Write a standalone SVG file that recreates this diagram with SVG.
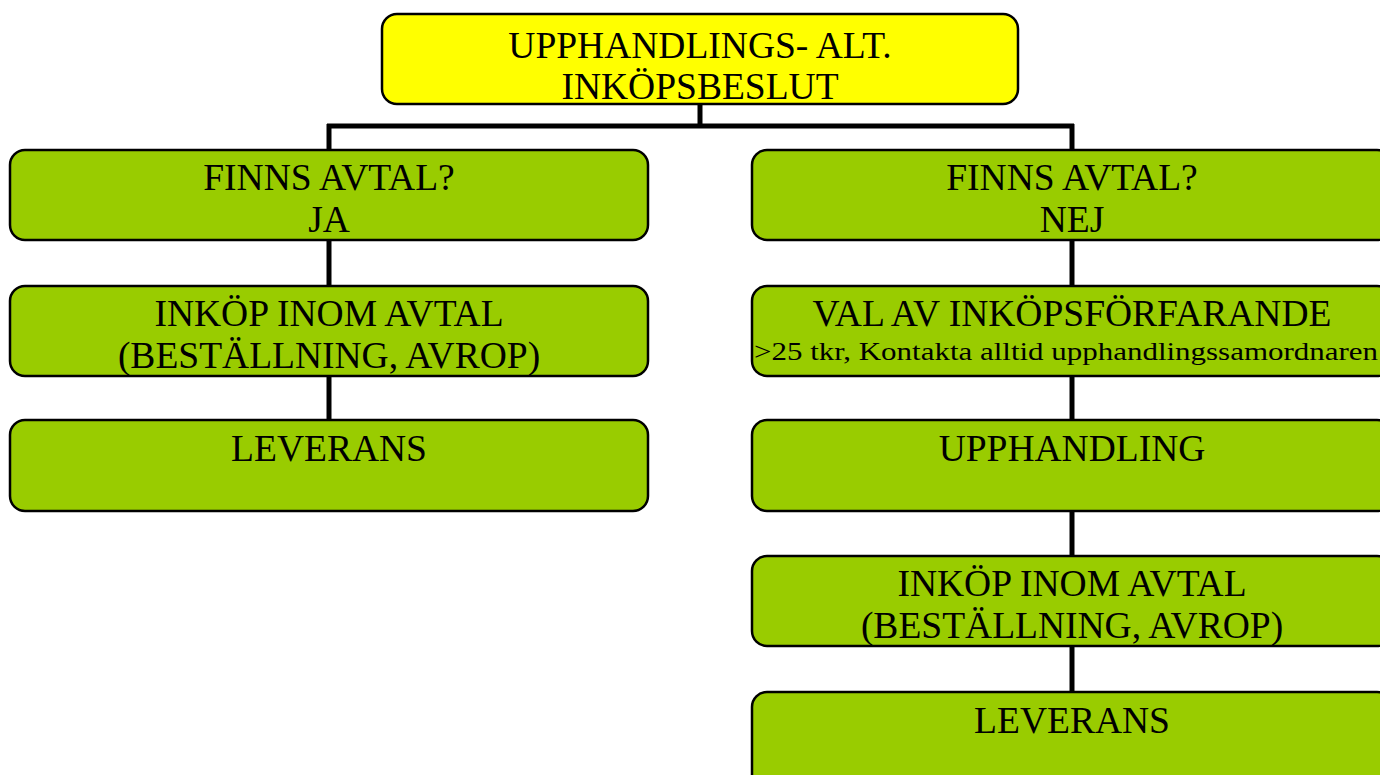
<svg xmlns="http://www.w3.org/2000/svg" width="1380" height="775" viewBox="0 0 1380 775">
<style>
.box{fill:#99CC00;stroke:#000;stroke-width:2.5}
.top{fill:#FFFF00;stroke:#000;stroke-width:2.5}
.t{font-family:"Liberation Serif","Times New Roman",serif;font-size:37.5px;fill:#000;text-anchor:middle}
.s{font-family:"Liberation Serif","Times New Roman",serif;font-size:26px;fill:#000;text-anchor:middle}
.c{stroke:#000;stroke-width:5;fill:none}
</style>
<rect width="1380" height="775" fill="#fff"/>
<g id="connectors">
<line class="c" x1="700" y1="104" x2="700" y2="126"/>
<line class="c" x1="327" y1="126" x2="1074" y2="126"/>
<line class="c" x1="329" y1="124" x2="329" y2="150"/>
<line class="c" x1="1072" y1="124" x2="1072" y2="150"/>
<line class="c" x1="329" y1="240" x2="329" y2="286"/>
<line class="c" x1="329" y1="376" x2="329" y2="420"/>
<line class="c" x1="1072" y1="240" x2="1072" y2="286"/>
<line class="c" x1="1072" y1="376" x2="1072" y2="420"/>
<line class="c" x1="1072" y1="511" x2="1072" y2="556"/>
<line class="c" x1="1072" y1="646" x2="1072" y2="692"/>
</g>
<g id="n-top">
<rect class="top" x="382" y="14" width="636" height="90" rx="15"/>
<text class="t" x="700" y="57.5">UPPHANDLINGS- ALT.</text>
<text class="t" x="700" y="98.5">INKÖPSBESLUT</text>
</g>
<g id="n-ja">
<rect class="box" x="10" y="150" width="638" height="90" rx="15"/>
<text class="t" x="329" y="190">FINNS AVTAL?</text>
<text class="t" x="329" y="232">JA</text>
</g>
<g id="n-inkop-l">
<rect class="box" x="10" y="286" width="638" height="90" rx="15"/>
<text class="t" x="329" y="326">INKÖP INOM AVTAL</text>
<text class="t" x="329" y="368">(BESTÄLLNING, AVROP)</text>
</g>
<g id="n-lev-l">
<rect class="box" x="10" y="420" width="638" height="91" rx="15"/>
<text class="t" x="329" y="460.5">LEVERANS</text>
</g>
<g id="n-nej">
<rect class="box" x="752" y="150" width="640" height="90" rx="15"/>
<text class="t" x="1072" y="190">FINNS AVTAL?</text>
<text class="t" x="1072" y="232">NEJ</text>
</g>
<g id="n-val">
<rect class="box" x="752" y="286" width="640" height="90" rx="15"/>
<text class="t" x="1072" y="326">VAL AV INKÖPSFÖRFARANDE</text>
<text class="s" x="1066" y="360" textLength="624" lengthAdjust="spacingAndGlyphs">&gt;25 tkr, Kontakta alltid upphandlingssamordnaren</text>
</g>
<g id="n-upph">
<rect class="box" x="752" y="420" width="640" height="91" rx="15"/>
<text class="t" x="1072" y="460.5">UPPHANDLING</text>
</g>
<g id="n-inkop-r">
<rect class="box" x="752" y="556" width="640" height="90" rx="15"/>
<text class="t" x="1072" y="596">INKÖP INOM AVTAL</text>
<text class="t" x="1072" y="638">(BESTÄLLNING, AVROP)</text>
</g>
<g id="n-lev-r">
<rect class="box" x="752" y="692" width="640" height="100" rx="15"/>
<text class="t" x="1072" y="732.5">LEVERANS</text>
</g>
</svg>
